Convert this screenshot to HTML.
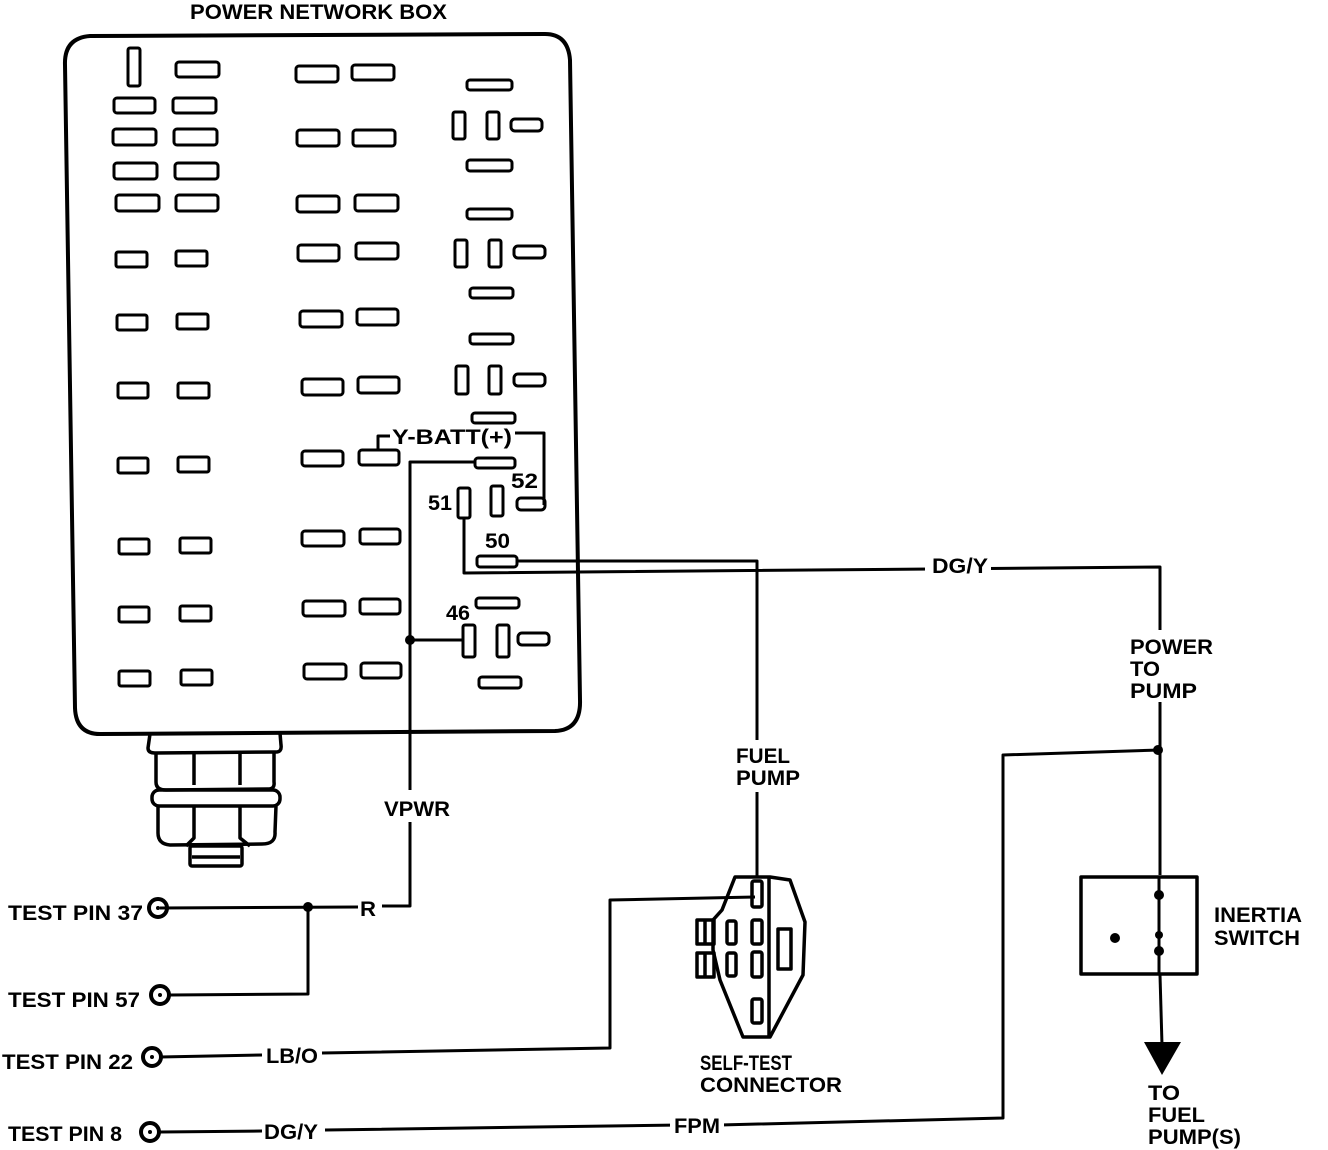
<!DOCTYPE html>
<html><head><meta charset="utf-8"><style>
html,body{margin:0;padding:0;background:#fff;width:1328px;height:1150px;overflow:hidden}
text{font-family:"Liberation Sans",Arial,sans-serif;font-weight:bold;fill:#000}
</style></head><body>
<svg width="1328" height="1150" viewBox="0 0 1328 1150" xmlns="http://www.w3.org/2000/svg">
<g fill="none" stroke="#000" stroke-linejoin="round">
<path d="M90,36 L545,34 Q568,34 570,60 L580,700 Q581,730 555,731 L100,734 Q76,734 75,708 L65,65 Q64,38 90,36 Z" stroke-width="4"/>
<g stroke-width="3.5">
<path d="M150,734 L148,748 Q148,753 155,753 L276,752 Q282,752 281,745 L280,733"/>
<path d="M156,753 L156,782 Q156,790 166,790 L268,789 Q275,789 274,782 L274,752"/>
<path d="M194,753 L194,785 M240,752 L240,785"/>
<rect x="152" y="790" width="128" height="16" rx="7"/>
<path d="M158,806 L158,833 Q158,844 170,845 L262,844 Q276,844 275,832 L276,806"/>
<path d="M194,806 L194,838 L186,846 M240,806 L240,838 L250,846"/>
<rect x="190" y="846" width="52" height="20" rx="2"/>
<path d="M192,857 L240,857"/>
</g>
<g stroke-width="3">
<rect x="128" y="48" width="12" height="38" rx="2"/>
<rect x="176" y="62" width="43" height="15" rx="3"/>
<rect x="114" y="98" width="41" height="15" rx="3"/><rect x="173" y="98" width="43" height="15" rx="3"/>
<rect x="113" y="129" width="43" height="16" rx="3"/><rect x="174" y="129" width="43" height="16" rx="3"/>
<rect x="114" y="163" width="43" height="16" rx="3"/><rect x="175" y="163" width="43" height="16" rx="3"/>
<rect x="116" y="195" width="43" height="16" rx="3"/><rect x="176" y="195" width="42" height="16" rx="3"/>
<rect x="296" y="66" width="42" height="16" rx="3"/><rect x="352" y="65" width="42" height="15" rx="3"/>
<rect x="297" y="130" width="42" height="16" rx="3"/><rect x="353" y="130" width="42" height="16" rx="3"/>
<rect x="297" y="196" width="42" height="16" rx="3"/><rect x="355" y="195" width="43" height="16" rx="3"/>
</g>
<g stroke-width="3">
<rect x="116" y="252" width="31" height="15" rx="2"/><rect x="176" y="251" width="31" height="15" rx="2"/>
<rect x="117" y="315" width="30" height="15" rx="2"/><rect x="177" y="314" width="31" height="15" rx="2"/>
<rect x="118" y="383" width="30" height="15" rx="2"/><rect x="178" y="383" width="31" height="15" rx="2"/>
<rect x="118" y="458" width="30" height="15" rx="2"/><rect x="178" y="457" width="31" height="15" rx="2"/>
<rect x="119" y="539" width="30" height="15" rx="2"/><rect x="180" y="538" width="31" height="15" rx="2"/>
<rect x="119" y="607" width="30" height="15" rx="2"/><rect x="180" y="606" width="31" height="15" rx="2"/>
<rect x="119" y="671" width="31" height="15" rx="2"/><rect x="181" y="670" width="31" height="15" rx="2"/>
<rect x="298" y="245" width="41" height="16" rx="3"/><rect x="356" y="243" width="42" height="16" rx="3"/>
<rect x="300" y="311" width="42" height="16" rx="3"/><rect x="357" y="309" width="41" height="16" rx="3"/>
<rect x="302" y="379" width="41" height="16" rx="3"/><rect x="358" y="377" width="41" height="16" rx="3"/>
<rect x="302" y="451" width="41" height="15" rx="3"/><rect x="359" y="450" width="40" height="15" rx="3"/>
<rect x="302" y="531" width="42" height="15" rx="3"/><rect x="360" y="529" width="40" height="15" rx="3"/>
<rect x="303" y="601" width="42" height="15" rx="3"/><rect x="360" y="599" width="40" height="15" rx="3"/>
<rect x="304" y="664" width="42" height="15" rx="3"/><rect x="361" y="663" width="40" height="15" rx="3"/>
</g>
<g stroke-width="3">
<rect x="467" y="80" width="45" height="10" rx="3"/>
<rect x="453" y="112" width="12" height="27" rx="2"/><rect x="487" y="112" width="12" height="27" rx="2"/><rect x="511" y="119" width="31" height="12" rx="4"/>
<rect x="467" y="160" width="45" height="11" rx="3"/>
<rect x="467" y="209" width="45" height="10" rx="3"/>
<rect x="455" y="240" width="12" height="27" rx="2"/><rect x="489" y="240" width="12" height="27" rx="2"/><rect x="514" y="246" width="31" height="12" rx="4"/>
<rect x="470" y="288" width="43" height="10" rx="3"/>
<rect x="470" y="334" width="43" height="10" rx="3"/>
<rect x="456" y="366" width="12" height="28" rx="2"/><rect x="489" y="366" width="12" height="28" rx="2"/><rect x="514" y="374" width="31" height="12" rx="4"/>
<rect x="472" y="413" width="43" height="10" rx="3"/>
<rect x="475" y="458" width="40" height="10" rx="3"/>
<rect x="458" y="488" width="12" height="30" rx="2"/><rect x="491" y="486" width="12" height="30" rx="2"/><rect x="517" y="498" width="28" height="12" rx="4"/>
<rect x="477" y="556" width="40" height="11" rx="3"/>
<rect x="476" y="598" width="43" height="10" rx="3"/>
<rect x="463" y="625" width="12" height="32" rx="2"/><rect x="497" y="625" width="12" height="32" rx="2"/><rect x="518" y="633" width="31" height="12" rx="4"/>
<rect x="479" y="677" width="42" height="11" rx="3"/>
</g>
<g stroke-width="3">
<path d="M378,450 L378,436 L390,436"/>
<path d="M515,433 L544,433 L544,505"/>
<path d="M475,462 L410,462 L410,906 L382,906"/>
<path d="M410,640 L463,640"/>
<path d="M160,908 L358,907"/>
<path d="M308,908 L308,994 L170,995"/>
<path d="M464,518 L464,573 L1160,567 L1160,875"/>
<path d="M517,561 L757,561 L757,878"/>
<path d="M1160,750 L1003,755 L1003,1118 L720,1125"/>
<path d="M680,1125 L325,1130 M262,1131 L160,1132"/>
<path d="M160,1057 L262,1055 M322,1053 L610,1048 L610,900 L755,897"/>
<path d="M1160,975 L1162,1045"/>
</g>
<g stroke-width="4"><circle cx="158" cy="908" r="9"/><circle cx="160" cy="995" r="9"/><circle cx="152" cy="1057" r="9"/><circle cx="150" cy="1132" r="9"/></g>
<g stroke-width="3.5">
<path d="M735,877 L770,877 L790,880 L805,922 L803,975 L770,1037 L743,1037 L720,980 L713,950 L713,920 L722,910 L735,877 Z"/>
<path d="M769,877 L769,1037"/>
<rect x="697" y="920" width="17" height="24"/><rect x="697" y="953" width="17" height="24"/>
<path d="M705,920 L705,944 M705,953 L705,977"/>
<rect x="727" y="921" width="9" height="23" rx="2"/><rect x="727" y="953" width="9" height="23" rx="2"/>
<rect x="752" y="881" width="10" height="26" rx="2"/>
<rect x="752" y="920" width="10" height="24" rx="2"/><rect x="752" y="952" width="10" height="25" rx="2"/>
<rect x="752" y="999" width="10" height="24" rx="2"/>
<rect x="778" y="929" width="13" height="40"/>
</g>
<rect x="1081" y="877" width="116" height="97" stroke-width="3.5"/>
</g>
<g fill="#000">
<circle cx="410" cy="640" r="5"/><circle cx="308" cy="907" r="5"/><circle cx="1158" cy="750" r="5"/>
<circle cx="158" cy="908" r="2"/><circle cx="160" cy="995" r="2"/><circle cx="152" cy="1057" r="2"/><circle cx="150" cy="1132" r="2"/>
<polygon points="1144,1042 1181,1042 1162,1075"/>
</g>
<g stroke="#000" stroke-width="3"><line x1="1159" y1="877" x2="1159" y2="975"/></g>
<g fill="#000"><circle cx="1159" cy="895" r="5"/><circle cx="1159" cy="935" r="4"/><circle cx="1159" cy="951" r="5"/><circle cx="1115" cy="938" r="5"/></g>
<g fill="#fff">
<rect x="925" y="555" width="66" height="22"/>
<rect x="380" y="790" width="72" height="32"/>
<rect x="732" y="740" width="72" height="52"/>
<rect x="1126" y="630" width="90" height="72"/>
<rect x="670" y="1114" width="54" height="22"/>
</g>
<g font-size="21">
<text x="190" y="19" textLength="257" lengthAdjust="spacingAndGlyphs">POWER NETWORK BOX</text>
<text x="392" y="444" textLength="120" lengthAdjust="spacingAndGlyphs">Y-BATT(+)</text>
<text x="511" y="488" textLength="27" lengthAdjust="spacingAndGlyphs">52</text>
<text x="428" y="510" textLength="24" lengthAdjust="spacingAndGlyphs">51</text>
<text x="485" y="548" textLength="25" lengthAdjust="spacingAndGlyphs">50</text>
<text x="446" y="620" textLength="24" lengthAdjust="spacingAndGlyphs">46</text>
<text x="932" y="573" textLength="56" lengthAdjust="spacingAndGlyphs">DG/Y</text>
<text x="1130" y="654" textLength="83" lengthAdjust="spacingAndGlyphs">POWER</text>
<text x="1130" y="676" textLength="30" lengthAdjust="spacingAndGlyphs">TO</text>
<text x="1130" y="698" textLength="67" lengthAdjust="spacingAndGlyphs">PUMP</text>
<text x="736" y="763" textLength="54" lengthAdjust="spacingAndGlyphs">FUEL</text>
<text x="736" y="785" textLength="64" lengthAdjust="spacingAndGlyphs">PUMP</text>
<text x="384" y="816" textLength="66" lengthAdjust="spacingAndGlyphs">VPWR</text>
<text x="360" y="916" textLength="16" lengthAdjust="spacingAndGlyphs">R</text>
<text x="8" y="920" textLength="135" lengthAdjust="spacingAndGlyphs">TEST PIN 37</text>
<text x="8" y="1007" textLength="132" lengthAdjust="spacingAndGlyphs">TEST PIN 57</text>
<text x="2" y="1069" textLength="131" lengthAdjust="spacingAndGlyphs">TEST PIN 22</text>
<text x="8" y="1141" textLength="114" lengthAdjust="spacingAndGlyphs">TEST PIN 8</text>
<text x="266" y="1063" textLength="52" lengthAdjust="spacingAndGlyphs">LB/O</text>
<text x="264" y="1139" textLength="54" lengthAdjust="spacingAndGlyphs">DG/Y</text>
<text x="674" y="1133" textLength="46" lengthAdjust="spacingAndGlyphs">FPM</text>
<text x="700" y="1070" textLength="92" lengthAdjust="spacingAndGlyphs">SELF-TEST</text>
<text x="700" y="1092" textLength="142" lengthAdjust="spacingAndGlyphs">CONNECTOR</text>
<text x="1214" y="922" textLength="88" lengthAdjust="spacingAndGlyphs">INERTIA</text>
<text x="1214" y="945" textLength="86" lengthAdjust="spacingAndGlyphs">SWITCH</text>
<text x="1148" y="1100" textLength="32" lengthAdjust="spacingAndGlyphs">TO</text>
<text x="1148" y="1122" textLength="57" lengthAdjust="spacingAndGlyphs">FUEL</text>
<text x="1148" y="1144" textLength="93" lengthAdjust="spacingAndGlyphs">PUMP(S)</text>
</g>
</svg>
</body></html>
